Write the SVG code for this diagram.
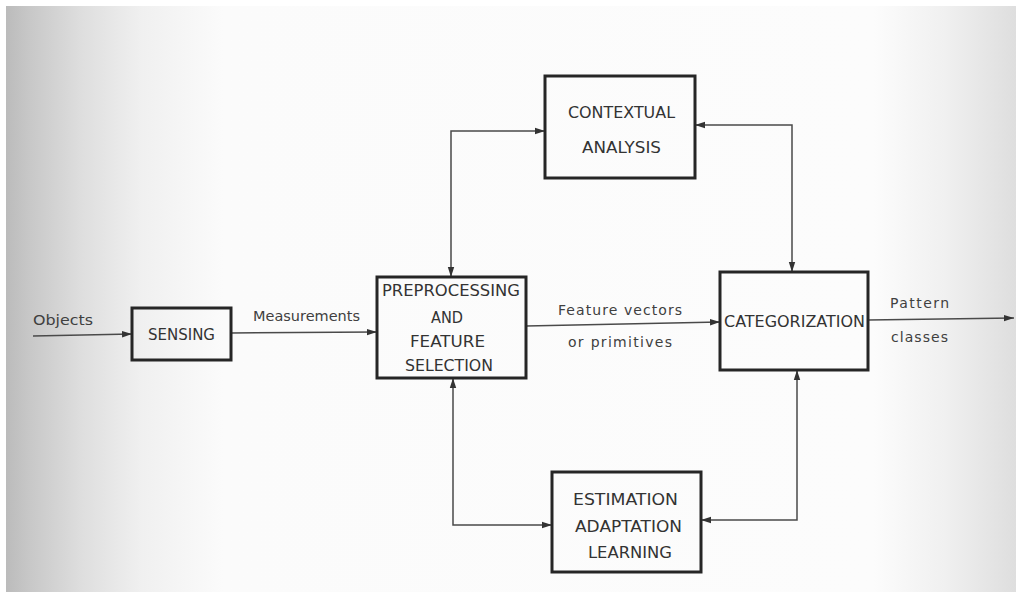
<svg xmlns="http://www.w3.org/2000/svg" width="1016" height="592" viewBox="0 0 1016 592">
  <defs>
    <linearGradient id="paper" x1="0" y1="0" x2="1016" y2="0" gradientUnits="userSpaceOnUse">
      <stop offset="0" stop-color="#b8b8b8"/>
      <stop offset="0.03" stop-color="#c8c8c8"/>
      <stop offset="0.08" stop-color="#dedede"/>
      <stop offset="0.14" stop-color="#f0f0f0"/>
      <stop offset="0.22" stop-color="#fbfbfb"/>
      <stop offset="0.86" stop-color="#fcfcfc"/>
      <stop offset="0.93" stop-color="#f0f0f0"/>
      <stop offset="1" stop-color="#dedede"/>
    </linearGradient>
    <marker id="arrow" viewBox="0 0 10 8" refX="10" refY="4" markerWidth="10" markerHeight="8" markerUnits="userSpaceOnUse" orient="auto-start-reverse">
      <path d="M0,0.8 L10,4 L0,7.2 Z" fill="#333"/>
    </marker>
    <style>
      .box { fill: none; stroke: #262626; stroke-width: 3; }
      .wire { fill: none; stroke: #4a4a4a; stroke-width: 1.5; }
      .label { font-family: "DejaVu Sans", "Liberation Sans", sans-serif; font-size: 15px; fill: #333; }
      .edge { font-family: "DejaVu Sans", "Liberation Sans", sans-serif; font-size: 14px; fill: #404040; }
    </style>
  </defs>

  <!-- paper -->
  <rect x="0" y="0" width="1016" height="592" fill="url(#paper)"/>
  <rect x="0" y="0" width="1016" height="6" fill="#ffffff"/>
  <rect x="0" y="0" width="6" height="592" fill="#ffffff"/>

  <!-- connectors -->
  <g id="connectors">
    <path class="wire" d="M33,336 L132,334" marker-end="url(#arrow)"/>
    <path class="wire" d="M231,333 L377,332" marker-end="url(#arrow)"/>
    <path class="wire" d="M526,326 L720,322" marker-end="url(#arrow)"/>
    <path class="wire" d="M868,320 L1014,318" marker-end="url(#arrow)"/>
    <path class="wire" d="M451,277 L451,131 L545,131" marker-start="url(#arrow)" marker-end="url(#arrow)"/>
    <path class="wire" d="M695,125 L792,125 L792,272" marker-start="url(#arrow)" marker-end="url(#arrow)"/>
    <path class="wire" d="M453,378 L453,525 L552,525" marker-start="url(#arrow)" marker-end="url(#arrow)"/>
    <path class="wire" d="M797,370 L797,520 L701,520" marker-start="url(#arrow)" marker-end="url(#arrow)"/>
    <text class="edge" x="33" y="325" textLength="60" lengthAdjust="spacingAndGlyphs">Objects</text>
    <text class="edge" x="253" y="321" textLength="107" lengthAdjust="spacingAndGlyphs">Measurements</text>
    <text class="edge" x="558" y="315" textLength="124" lengthAdjust="spacing">Feature vectors</text>
    <text class="edge" x="568" y="347" textLength="104" lengthAdjust="spacing">or primitives</text>
    <text class="edge" x="890" y="308" textLength="59" lengthAdjust="spacing">Pattern</text>
    <text class="edge" x="891" y="342" textLength="57" lengthAdjust="spacing">classes</text>
  </g>

  <g id="sensing">
    <rect class="box" x="132" y="308" width="99" height="52"/>
    <text class="label" x="148" y="340" textLength="67" lengthAdjust="spacingAndGlyphs">SENSING</text>
  </g>

  <g id="preprocessing">
    <rect class="box" x="377" y="277" width="149" height="101"/>
    <text class="label" x="382" y="296" textLength="138" lengthAdjust="spacingAndGlyphs">PREPROCESSING</text>
    <text class="label" x="431" y="323" textLength="32" lengthAdjust="spacingAndGlyphs">AND</text>
    <text class="label" x="410" y="347" textLength="75" lengthAdjust="spacingAndGlyphs">FEATURE</text>
    <text class="label" x="405" y="371" textLength="88" lengthAdjust="spacingAndGlyphs">SELECTION</text>
  </g>

  <g id="categorization">
    <rect class="box" x="720" y="272" width="148" height="98"/>
    <text class="label" x="724" y="327" textLength="141" lengthAdjust="spacingAndGlyphs">CATEGORIZATION</text>
  </g>

  <g id="contextual">
    <rect class="box" x="545" y="76" width="150" height="102"/>
    <text class="label" x="568" y="118" textLength="107" lengthAdjust="spacingAndGlyphs">CONTEXTUAL</text>
    <text class="label" x="582" y="153" textLength="79" lengthAdjust="spacingAndGlyphs">ANALYSIS</text>
  </g>

  <g id="estimation">
    <rect class="box" x="552" y="472" width="149" height="100"/>
    <text class="label" x="573" y="505" textLength="105" lengthAdjust="spacingAndGlyphs">ESTIMATION</text>
    <text class="label" x="575" y="532" textLength="107" lengthAdjust="spacingAndGlyphs">ADAPTATION</text>
    <text class="label" x="588" y="558" textLength="84" lengthAdjust="spacingAndGlyphs">LEARNING</text>
  </g>
</svg>
